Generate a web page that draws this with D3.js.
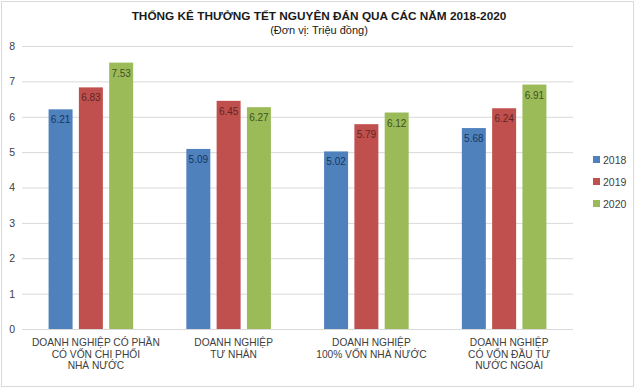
<!DOCTYPE html>
<html>
<head>
<meta charset="utf-8">
<script src="https://cdn.jsdelivr.net/npm/d3@7"></script>
<style>
  body { margin: 0; background: #fff; }
  svg { display: block; font-family: Arial, "Liberation Sans", sans-serif; }
</style>
</head>
<body>
<div id="chart"></div>
<script>
// data
var categories = [
  ["DOANH NGHIỆP CÓ PHẦN", "CÓ VỐN CHI PHỐI", "NHÀ NƯỚC"],
  ["DOANH NGHIỆP", "TƯ NHÂN"],
  ["DOANH NGHIỆP", "100% VỐN NHÀ NƯỚC"],
  ["DOANH NGHIỆP", "CÓ VỐN ĐẦU TƯ", "NƯỚC NGOÀI"]
];
var years = ["2018", "2019", "2020"];
var v2018 = [6.21, 5.09, 5.02, 5.68];
var v2019 = [6.83, 6.45, 5.79, 6.24];
var v2020 = [7.53, 6.27, 6.12, 6.91];
var yTicks = [0, 1, 2, 3, 4, 5, 6, 7, 8];

var colors = ["#4f81bd", "#c0504d", "#9bbb59"];
var labelColors = ["#17365d", "#632523", "#3f5220"];
var series = [v2018, v2019, v2020];

var W = 640, H = 389;
var plot = { left: 22, right: 573, top: 46, bottom: 329 };

var svg = d3.select("#chart").append("svg")
  .attr("width", W).attr("height", H);

// frame
svg.append("rect")
  .attr("x", 1.5).attr("y", 1.5)
  .attr("width", 632).attr("height", 385)
  .attr("fill", "#fff").attr("stroke", "#d9d9d9");

// title
svg.append("text")
  .attr("x", 319).attr("y", 20)
  .attr("text-anchor", "middle")
  .style("font-size", "11.8px").style("font-weight", "bold")
  .attr("fill", "#1a1a1a")
  .text("THỐNG KÊ THƯỞNG TẾT NGUYÊN ĐÁN QUA CÁC NĂM 2018-2020");
svg.append("text")
  .attr("x", 319).attr("y", 34)
  .attr("text-anchor", "middle")
  .style("font-size", "11px")
  .attr("fill", "#1a1a1a")
  .text("(Đơn vị: Triệu đồng)");

var y = d3.scaleLinear().domain([0, 8]).range([plot.bottom, plot.top]);
var x0 = d3.scaleBand().domain(d3.range(categories.length))
  .range([plot.left, plot.right])
  .paddingInner(0.386).paddingOuter(0.193);
var x1 = d3.scaleBand().domain(d3.range(years.length))
  .range([0, x0.bandwidth()])
  .paddingInner(0.208);

// grid + y labels
var yAxis = d3.axisLeft(y).tickValues(yTicks)
  .tickSize(-(plot.right - plot.left)).tickPadding(7);
var ga = svg.append("g")
  .attr("transform", "translate(" + plot.left + ",0)")
  .call(yAxis);
ga.select(".domain").remove();
ga.selectAll(".tick line").attr("stroke", "#d9d9d9");
ga.selectAll(".tick text")
  .attr("fill", "#404040")
  .style("font-size", "10.5px")
  .style("font-family", "Arial, 'Liberation Sans', sans-serif");

// bars
var groups = svg.selectAll("g.grp")
  .data(categories)
  .enter().append("g")
  .attr("class", "grp")
  .attr("transform", function(d, i) { return "translate(" + x0(i) + ",0)"; });

groups.each(function(c, ci) {
  var g = d3.select(this);
  series.forEach(function(s, si) {
    var v = s[ci];
    g.append("rect")
      .attr("x", x1(si))
      .attr("y", y(v))
      .attr("width", x1.bandwidth())
      .attr("height", y(0) - y(v))
      .attr("fill", colors[si]);
    g.append("text")
      .attr("x", x1(si) + x1.bandwidth() / 2)
      .attr("y", y(v) + 14)
      .attr("text-anchor", "middle")
      .style("font-size", "10px")
      .attr("fill", labelColors[si])
      .text(v.toFixed(2));
  });
});

// baseline
svg.append("line")
  .attr("x1", plot.left).attr("x2", plot.right)
  .attr("y1", y(0) + 0.5).attr("y2", y(0) + 0.5)
  .attr("stroke", "#d9d9d9");

// category labels (wrapped, slightly right of group centre like the source)
categories.forEach(function(lines, ci) {
  var cx = x0(ci) + x0.bandwidth() / 2 + 5;
  var t = svg.append("text")
    .attr("x", cx)
    .attr("y", 346)
    .attr("text-anchor", "middle")
    .style("font-size", "10.2px")
    .attr("fill", "#404040");
  lines.forEach(function(l, li) {
    t.append("tspan")
      .attr("x", cx)
      .attr("dy", li === 0 ? 0 : 11.6)
      .text(l);
  });
});

// legend
var leg = svg.selectAll("g.leg")
  .data(years)
  .enter().append("g")
  .attr("class", "leg")
  .attr("transform", function(d, i) { return "translate(593," + (160 + i * 22) + ")"; });
leg.append("rect")
  .attr("x", 0).attr("y", -4)
  .attr("width", 7).attr("height", 7)
  .attr("fill", function(d, i) { return colors[i]; });
leg.append("text")
  .attr("x", 10).attr("y", 3.5)
  .style("font-size", "10.5px")
  .attr("fill", "#404040")
  .text(function(d) { return d; });
</script>
</body>
</html>
